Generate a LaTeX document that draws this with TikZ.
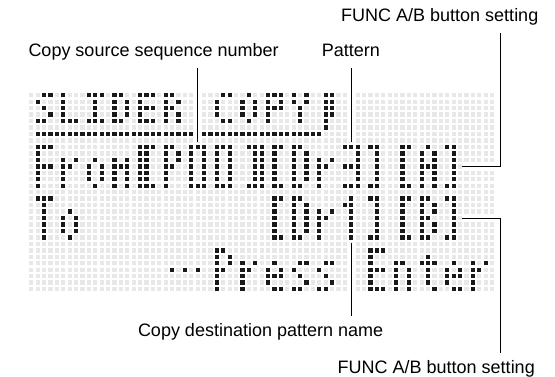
\documentclass[tikz,border=0pt]{standalone}
\usepackage{fontspec}
\setmainfont{Liberation Sans}
\begin{document}
\begin{tikzpicture}[x=1pt,y=-1pt]
        \tikzset{lbltext/.style = {font=\fontsize{18}{21}\selectfont, anchor=base west, inner xsep=0pt, inner ysep=7pt, text height=13pt, text depth=4pt},
                 leader/.style = {draw=black, line width=1pt, preaction={draw=white, line width=5pt}},
                 offdot/.style = {fill=black!9},
                 ondot/.style = {fill=black!90}}

        \useasboundingbox (0,0) rectangle (555,377);

        \begin{scope}[shift={(37.7,95.3)}, x=6.4pt, y=-6.46pt]
            \foreach \r in {0,...,30}
                \foreach \k in {-1,...,71}
                    \fill[offdot] (\k-0.34,\r-0.34) rectangle (\k+0.34,\r+0.34);

            \foreach \r/\cols in {
                0/{1,2,4,8,9,10,12,13,16,17,18,20,21,29,30,33,36,37,38,40,42,45,46},
                1/{0,4,9,12,14,16,20,22,28,32,34,36,38,40,42,45,46},
                2/{1,4,9,12,14,16,17,18,20,21,28,32,34,36,37,38,41,45,46},
                3/{2,4,9,12,14,16,20,22,28,32,34,36,41,45,46},
                4/{0,1,4,5,6,8,9,10,12,13,16,17,18,20,22,29,30,33,36,41,45},
                5/{45},
                6/{0,...,24},
                6/{26,...,44},
                8/{0,1,2,16,17,18,20,21,24,25,26,28,29,30,33,34,35,37,38,40,41,48,49,50,52,53,57,58,61,64,65},
                9/{0,16,17,20,22,24,26,28,30,34,35,37,40,42,50,53,57,60,62,65},
                10/{0,4,6,9,12,14,16,17,20,22,24,26,28,30,34,35,37,40,42,44,46,50,53,57,60,62,65},
                11/{0,1,2,4,5,8,10,12,13,14,16,17,20,21,24,26,28,30,34,35,37,40,42,44,45,48,49,50,53,57,60,61,62,65},
                12/{0,4,8,10,12,14,16,17,20,24,26,28,30,34,35,37,40,42,44,50,53,57,60,62,65},
                13/{0,4,8,10,12,14,16,17,20,24,26,28,30,34,35,37,40,42,44,50,53,57,60,62,65},
                14/{0,4,9,12,14,16,17,18,20,24,25,26,28,29,30,33,34,35,37,38,40,41,44,48,49,50,52,53,57,58,60,62,64,65},
                16/{0,1,2,37,38,40,41,49,52,53,57,58,60,61,64,65},
                17/{1,37,40,42,48,49,53,57,60,62,65},
                18/{1,5,37,40,42,44,46,49,53,57,60,62,65},
                19/{1,4,6,37,40,42,44,45,49,53,57,60,61,65},
                20/{1,4,6,37,40,42,44,49,53,57,60,62,65},
                21/{1,4,6,37,40,42,44,49,53,57,60,62,65},
                22/{1,5,37,38,40,41,44,49,52,53,57,58,60,61,64,65},
                24/{28,29,52,53,54},
                25/{28,30,52,61},
                26/{28,30,32,34,37,41,42,45,46,52,56,57,60,61,62,65,68,70},
                27/{21,23,25,28,29,32,33,36,38,40,44,52,53,54,56,58,61,64,66,68,69},
                28/{28,32,36,37,38,41,45,52,56,58,61,64,65,66,68},
                29/{28,32,36,42,46,52,56,58,61,64,68},
                30/{28,32,37,38,40,41,44,45,52,53,54,56,58,62,65,66,68}}
                \foreach \k in \cols
                    \fill[ondot] (\k-0.34,\r-0.34) rectangle (\k+0.34,\r+0.34);

            \coordinate (srcpt) at (25,7.2);
            \coordinate (patpt) at (49,7.3);
            \coordinate (destpt) at (49,22.9);
            \coordinate (aend) at (66.3,11);
            \coordinate (bend) at (66.3,19);
        \end{scope}

        \coordinate (rtcol) at (500,0);

        \node[lbltext] (functop) at (341,22) {FUNC A/B button setting};
        \node[lbltext] (src) at (28.3,57) {Copy source sequence number};
        \node[lbltext] (pat) at (321.6,57) {Pattern};
        \node[lbltext] (dest) at (137.8,336) {Copy destination pattern name};
        \node[lbltext] (funcbot) at (337.5,373) {FUNC A/B button setting};

        \draw[leader] (src.south -| srcpt) -- (srcpt);
        \draw[leader] (pat.south -| patpt) -- (patpt);
        \draw[leader] (functop.south -| rtcol) |- (aend);
        \draw[leader] (bend) -| (funcbot.north -| rtcol);
        \draw[leader] (destpt) -- (dest.north -| destpt);

    \end{tikzpicture}
\end{document}
